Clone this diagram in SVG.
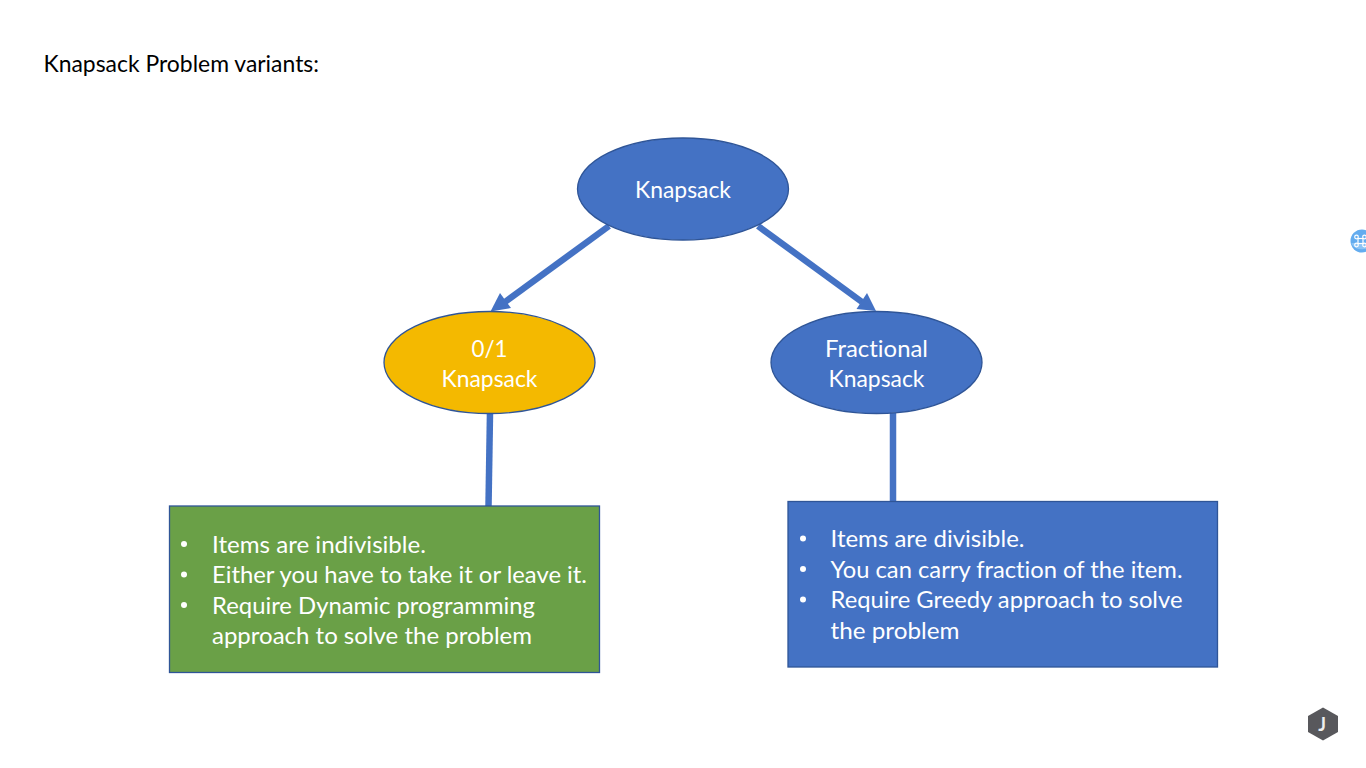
<svg xmlns="http://www.w3.org/2000/svg" width="1366" height="768" viewBox="0 0 1366 768">
<style>
text{font-family:Lato,"Open Sans",sans-serif;font-size:23.5px;fill:#fff;font-variant-ligatures:none}
.c{text-anchor:middle}
.shape{stroke:#2f5597;stroke-width:1.3}
.blue{fill:#4472c4}
.conn{stroke:#4472c4;stroke-width:6.500;fill:none}
.head{fill:#4472c4}
.glyph{stroke:#fff;stroke-width:1.2;fill:none}
</style>
<rect width="1366" height="768" fill="#fff"/>
<text id="title" x="43.500" y="72" style="fill:#000" textLength="275.500" lengthAdjust="spacingAndGlyphs">Knapsack Problem variants:</text>
<g id="connectors">
<line class="conn" x1="609" y1="226" x2="505" y2="302"/>
<polygon class="head" points="490.500,311.500 500,293 511,308"/>
<line class="conn" x1="758" y1="226" x2="862" y2="302"/>
<polygon class="head" points="876,311 867,293 856.500,309"/>
<line class="conn" x1="490" y1="413" x2="488.500" y2="506"/>
<line class="conn" x1="893" y1="413" x2="893" y2="501"/>
</g>
<g id="knapsack">
<ellipse class="shape blue" cx="683" cy="189" rx="105.500" ry="51"/>
<text class="c" x="683" y="198" textLength="96" lengthAdjust="spacingAndGlyphs">Knapsack</text>
</g>
<g id="zero-one">
<ellipse class="shape" fill="#f4b900" cx="489.500" cy="362.500" rx="105.500" ry="51"/>
<text class="c" x="489.500" y="356.500" textLength="36" lengthAdjust="spacingAndGlyphs">0/1</text>
<text class="c" x="489.500" y="387" textLength="96" lengthAdjust="spacingAndGlyphs">Knapsack</text>
</g>
<g id="fractional">
<ellipse class="shape blue" cx="876.500" cy="362.500" rx="105.500" ry="51"/>
<text class="c" x="876.500" y="356.500" textLength="103" lengthAdjust="spacingAndGlyphs">Fractional</text>
<text class="c" x="876.500" y="387" textLength="96" lengthAdjust="spacingAndGlyphs">Knapsack</text>
</g>
<g id="box-01">
<rect class="shape" fill="#6aa047" x="169.500" y="506" width="430" height="166.500"/>
<circle cx="184" cy="544" r="3" fill="#fff"/><circle cx="184" cy="574.500" r="3" fill="#fff"/><circle cx="184" cy="605" r="3" fill="#fff"/>
<text x="212" y="552.500" textLength="214" lengthAdjust="spacingAndGlyphs">Items are indivisible.</text>
<text x="212" y="583" textLength="375" lengthAdjust="spacingAndGlyphs">Either you have to take it or leave it.</text>
<text x="212" y="614" textLength="323" lengthAdjust="spacingAndGlyphs">Require Dynamic programming</text>
<text x="212" y="644" textLength="320" lengthAdjust="spacingAndGlyphs">approach to solve the problem</text>
</g>
<g id="box-fractional">
<rect class="shape blue" x="788" y="501.500" width="429.500" height="165.500"/>
<circle cx="803" cy="538.500" r="3" fill="#fff"/><circle cx="803" cy="569" r="3" fill="#fff"/><circle cx="803" cy="599.500" r="3" fill="#fff"/>
<text x="830.500" y="547" textLength="194" lengthAdjust="spacingAndGlyphs">Items are divisible.</text>
<text x="830.500" y="577.500" textLength="352" lengthAdjust="spacingAndGlyphs">You can carry fraction of the item.</text>
<text x="830.500" y="608" textLength="352" lengthAdjust="spacingAndGlyphs">Require Greedy approach to solve</text>
<text x="830.500" y="639" textLength="129" lengthAdjust="spacingAndGlyphs">the problem</text>
</g>
<g id="badge-command">
<circle cx="1362" cy="241" r="11.500" fill="#63acef"/>
<path d="M1351.500 243h21v1a11.500 9 0 0 1 -21 0z" fill="#8cc4f5"/>
<rect class="glyph" x="1358" y="238.500" width="5" height="5"/>
<circle class="glyph" cx="1356.500" cy="237" r="1.800"/><circle class="glyph" cx="1364.500" cy="237" r="1.800"/>
<circle class="glyph" cx="1356.500" cy="245" r="1.800"/><circle class="glyph" cx="1364.500" cy="245" r="1.800"/>
</g>
<g id="badge-j">
<polygon points="1323,707.500 1338,716 1338,732 1323,740.500 1308,732 1308,716" fill="#58585c"/>
<text class="c" x="1322" y="730.500" style="font-size:18px;font-weight:700;fill:#eee">J</text>
</g>
</svg>
